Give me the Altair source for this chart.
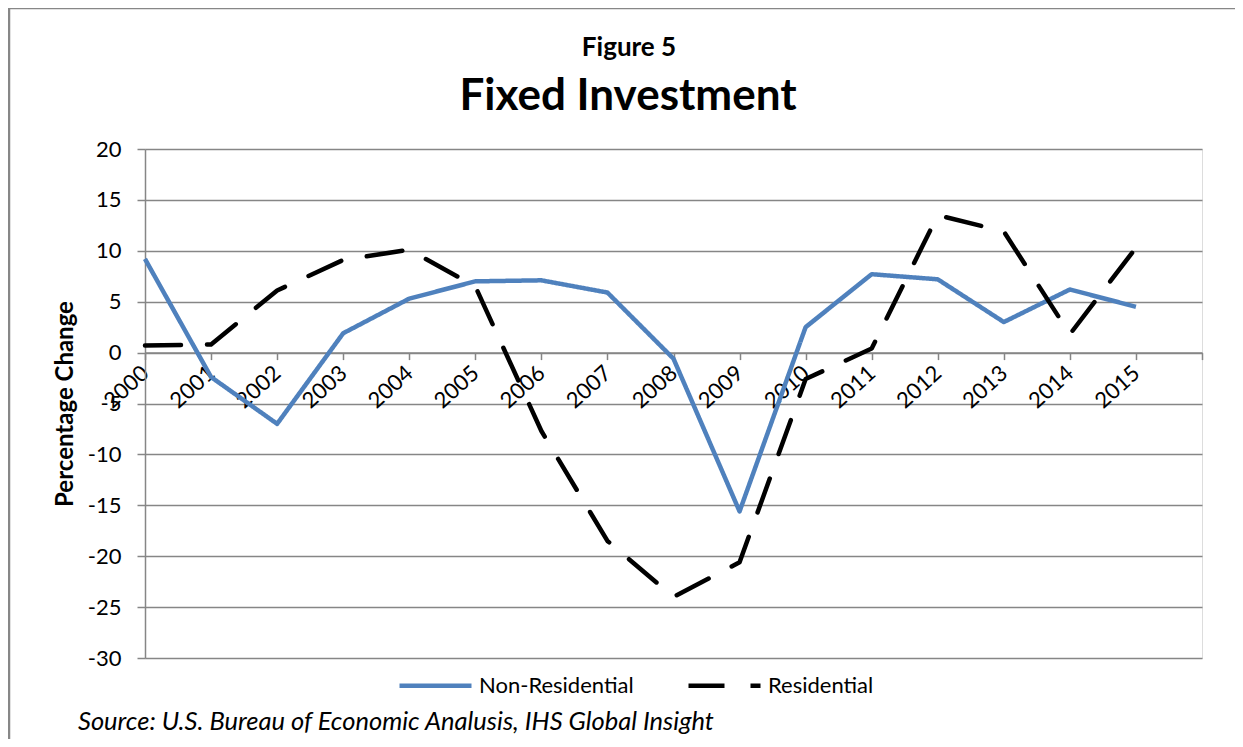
import altair as alt
import pandas as pd

years = list(range(2000, 2016))
non_residential = [9.2, -2.4, -7.0, 1.9, 5.3, 7.0, 7.1, 5.9, -0.6, -15.6, 2.5, 7.7, 7.2, 3.0, 6.2, 4.5]
residential = [0.7, 0.8, 6.1, 9.1, 10.1, 6.5, -7.7, -18.5, -24.0, -20.6, -2.6, 0.4, 13.5, 11.9, 1.8, 10.3]
series_names = ["Non-Residential", "Residential"]
y_ticks = list(range(-30, 25, 5))
x_ticks = list(range(2000, 2017))
title_small = "Figure 5"
title_big = "Fixed Investment"
source_note = "Source:  U.S. Bureau of Economic Analusis, IHS Global Insight"

df = pd.DataFrame(
    {
        "year": years * 2,
        "value": non_residential + residential,
        "series": [series_names[0]] * len(years) + [series_names[1]] * len(years),
    }
)

W, H = 1057, 509
FONT = "Lato"
GRID = "#868686"

color = alt.Color(
    "series:N",
    scale=alt.Scale(domain=series_names, range=["#4F81BD", "#000000"]),
    title=None,
    legend=alt.Legend(
        orient="none",
        legendX=252,
        legendY=498,
        direction="horizontal",
        symbolType="stroke",
        symbolSize=5184,
        symbolStrokeWidth=4.5,
        labelFont=FONT,
        labelFontSize=22,
        labelColor="#000000",
        labelOffset=5,
        columnPadding=45,
    ),
)
dash = alt.StrokeDash(
    "series:N",
    scale=alt.Scale(domain=series_names, range=[[1, 0], [36, 26]]),
    title=None,
)

x_enc = alt.X(
    "year:Q",
    scale=alt.Scale(domain=[2000, 2016], nice=False, zero=False),
    axis=alt.Axis(
        values=x_ticks,
        format="d",
        labelExpr="datum.value == 2016 ? '' : datum.label",
        title=None,
        grid=False,
        offset=-H * 30 / 50,
        domainColor=GRID,
        domainWidth=1.5,
        tickColor=GRID,
        tickWidth=1.5,
        tickSize=7,
        labelAngle=-42,
        labelAlign="right",
        labelBaseline="middle",
        labelPadding=10,
        labelFont=FONT,
        labelFontSize=22,
        labelColor="#000000",
    ),
)
y_enc = alt.Y(
    "value:Q",
    scale=alt.Scale(domain=[-30, 20], nice=False),
    axis=alt.Axis(
        values=y_ticks,
        labelExpr="'' + datum.value",
        title="Percentage Change",
        titleFont=FONT,
        titleFontSize=24,
        titleFontWeight="bold",
        titleColor="#000000",
        titlePadding=10,
        grid=True,
        gridColor=GRID,
        gridWidth=1.5,
        domainColor=GRID,
        domainWidth=1.5,
        tickColor=GRID,
        tickWidth=1.5,
        tickSize=8,
        labelPadding=16,
        labelFont=FONT,
        labelFontSize=22,
        labelColor="#000000",
    ),
)

base = alt.Chart(df)
blue = base.transform_filter(alt.datum.series == series_names[0]).mark_line(
    strokeWidth=4.5, strokeJoin="round"
).encode(x=x_enc, y=y_enc, color=color, strokeDash=dash)
black = base.transform_filter(alt.datum.series == series_names[1]).mark_line(
    strokeWidth=4.5, strokeCap="round", strokeJoin="round"
).encode(x=x_enc, y=y_enc, color=color, strokeDash=dash)

one = pd.DataFrame({"a": [0]})
source = alt.Chart(one).mark_text(
    text=source_note, font=FONT, fontSize=25.5, fontStyle="italic",
    align="left", baseline="middle", color="#000000",
).encode(x=alt.value(-67), y=alt.value(573))
t_small = alt.Chart(one).mark_text(
    text=title_small, font=FONT, fontSize=26, fontWeight="bold",
    align="center", baseline="middle", color="#000000",
).encode(x=alt.value(484), y=alt.value(-101))
t_big = alt.Chart(one).mark_text(
    text=title_big, font=FONT, fontSize=44, fontWeight="bold",
    align="center", baseline="middle", color="#000000",
).encode(x=alt.value(483), y=alt.value(-52))

frame = alt.Chart(one).mark_rect(
    fillOpacity=0, stroke="#878787", strokeWidth=2.5
).encode(x=alt.value(-136), x2=alt.value(W + 300), y=alt.value(-141), y2=alt.value(H + 300))

chart = (
    alt.layer(frame, blue, black, source, t_small, t_big)
    .properties(
        width=W,
        height=H,
        autosize=alt.AutoSizeParams(type="none"),
        padding={"left": 137, "top": 141, "right": 33, "bottom": 81},
    )
    .configure_view(stroke=None)
    .configure(background="#ffffff")
)

chart.save("out.html", embed_options={"renderer": "svg", "actions": False})
